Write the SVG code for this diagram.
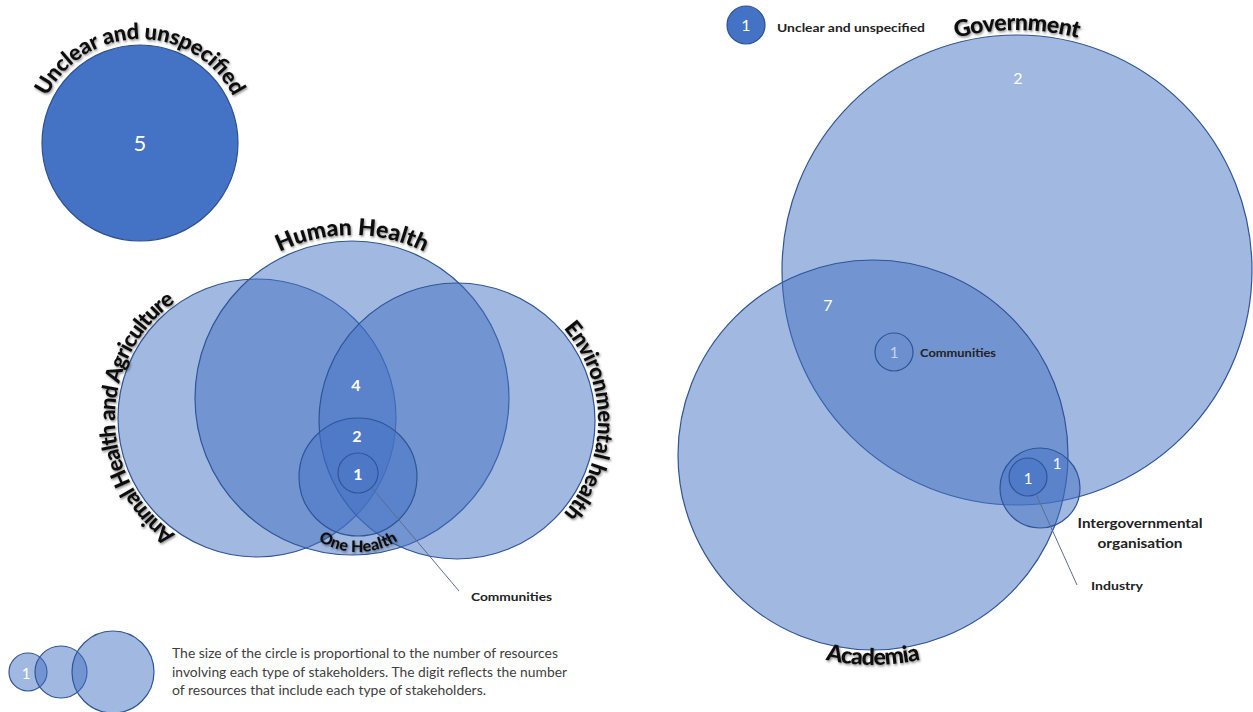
<svg xmlns="http://www.w3.org/2000/svg" width="1253" height="712" viewBox="0 0 1253 712">
<style>
  .c { fill: #4472C4; fill-opacity: 0.5; stroke: #2F5597; stroke-width: 1.2; }
  .cf { fill: #4472C4; stroke: #2F528F; stroke-width: 1.2; }
  .ci { fill: #4472C4; fill-opacity: 0.15; stroke: #2F5597; stroke-width: 1.2; }
  .arc { font-family: Lato, "Liberation Sans", sans-serif; font-weight: 900; fill: #111; }
  .lbl { font-family: Lato, "Liberation Sans", sans-serif; font-weight: 700; fill: #222; }
  .num { font-family: Lato, "Liberation Sans", sans-serif; fill: #fff; text-anchor: middle; }
  .leg { font-family: Lato, "Liberation Sans", sans-serif; fill: #404040; font-size: 13px; }
  .ln { stroke: #5B6C94; stroke-width: 1; fill: none; }
</style>
<defs>
  <filter id="sh" x="-10%" y="-30%" width="120%" height="160%">
    <feDropShadow dx="1" dy="1.5" stdDeviation="1.2" flood-color="#000" flood-opacity="0.45"/>
  </filter>
  <path id="pUnclear" d="M 36,143 A 104 104 0 0 1 244,143"/>
  <path id="pHuman" d="M 189,398 A 163 163 0 0 1 515,398"/>
  <path id="pAnimal" d="M 257,560 A 142 142 0 0 1 257,276"/>
  <path id="pEnv" d="M 457,280 A 141 141 0 0 1 457,562"/>
  <path id="pOne" d="M 283,477 A 75 75 0 0 0 433,477"/>
  <path id="pGov" d="M 777,270 A 240 240 0 0 1 1257,270"/>
  <path id="pAcad" d="M 663,455 A 210 210 0 0 0 1083,455"/>
</defs>
<rect width="1253" height="712" fill="#fff"/>

<g id="unclear-left">
  <circle class="cf" cx="140" cy="143" r="98"/>
  <text class="num" x="140" y="151" font-size="22">5</text>
  <text class="arc" font-size="22" filter="url(#sh)"><textPath href="#pUnclear" startOffset="50%" text-anchor="middle" textLength="230" lengthAdjust="spacing">Unclear and unspecified</textPath></text>
</g>

<g id="animal-health">
  <circle class="c" cx="257" cy="418" r="139"/>
  <text class="arc" font-size="22" filter="url(#sh)"><textPath href="#pAnimal" startOffset="50%" text-anchor="middle" textLength="272" lengthAdjust="spacing">Animal Health and Agriculture</textPath></text>
</g>
<g id="human-health">
  <circle class="c" cx="352" cy="398" r="157"/>
  <text class="arc" font-size="23" filter="url(#sh)"><textPath href="#pHuman" startOffset="50%" text-anchor="middle" textLength="150" lengthAdjust="spacing">Human Health</textPath></text>
</g>
<g id="environmental-health">
  <circle class="c" cx="457" cy="421" r="138"/>
  <text class="arc" font-size="22" filter="url(#sh)"><textPath href="#pEnv" startOffset="50%" text-anchor="middle" textLength="202" lengthAdjust="spacing">Environmental health</textPath></text>
</g>
<g id="one-health">
  <circle class="c" cx="358" cy="477" r="59"/>
  <text class="arc" font-size="16" filter="url(#sh)"><textPath href="#pOne" startOffset="50%" text-anchor="middle" textLength="84" lengthAdjust="spacing">One Health</textPath></text>
</g>
<g id="communities-venn">
  <circle class="ci" cx="358" cy="473" r="20"/>
  <text class="lbl" x="471" y="601" font-size="12" textLength="81" lengthAdjust="spacingAndGlyphs">Communities</text>
</g>
<g id="venn-numbers">
  <text class="num" x="356" y="391" font-size="16" font-weight="700">4</text>
  <text class="num" x="357" y="442" font-size="16" font-weight="700">2</text>
  <text class="num" x="358" y="480" font-size="16" font-weight="700">1</text>
</g>

<g id="government">
  <circle class="c" cx="1017" cy="270" r="235"/>
  <text class="num" x="1018" y="84" font-size="16">2</text>
  <text class="arc" font-size="23" filter="url(#sh)"><textPath href="#pGov" startOffset="50%" text-anchor="middle" textLength="124" lengthAdjust="spacing">Government</textPath></text>
</g>
<g id="academia">
  <circle class="c" cx="873" cy="455" r="195"/>
  <text class="num" x="828" y="311" font-size="16">7</text>
  <text class="arc" font-size="23" filter="url(#sh)"><textPath href="#pAcad" startOffset="50%" text-anchor="middle" textLength="96" lengthAdjust="spacing">Academia</textPath></text>
</g>
<g id="communities-right">
  <circle class="ci" cx="894" cy="352" r="19"/>
  <text class="num" x="894" y="358" font-size="15" style="fill:#C9D4EE">1</text>
  <text class="lbl" x="920" y="357" font-size="11" textLength="76" lengthAdjust="spacingAndGlyphs">Communities</text>
</g>
<g id="intergovernmental">
  <circle class="c" cx="1040" cy="488" r="40"/>
  <text class="num" x="1057" y="469" font-size="15">1</text>
  <text class="lbl" x="1140" y="528" font-size="13" text-anchor="middle" textLength="125" lengthAdjust="spacingAndGlyphs">Intergovernmental</text>
  <text class="lbl" x="1140" y="548" font-size="13" text-anchor="middle" textLength="85" lengthAdjust="spacingAndGlyphs">organisation</text>
</g>
<g id="industry">
  <circle class="c" cx="1028" cy="477" r="19"/>
  <text class="num" x="1028" y="484" font-size="15">1</text>
  <text class="lbl" x="1091" y="590" font-size="12" textLength="52" lengthAdjust="spacingAndGlyphs">Industry</text>
</g>

<g id="legend-top">
  <circle class="cf" cx="746" cy="25" r="19"/>
  <text class="num" x="746" y="31" font-size="16">1</text>
  <text class="lbl" x="777" y="32" font-size="12" textLength="148" lengthAdjust="spacingAndGlyphs">Unclear and unspecified</text>
</g>

<g id="legend-bottom">
  <circle class="c" cx="28" cy="672" r="19"/>
  <circle class="c" cx="61" cy="672" r="26"/>
  <circle class="c" cx="113" cy="672" r="41"/>
  <text class="num" x="26" y="679" font-size="15">1</text>
  <text class="leg" x="172" y="658" textLength="386" lengthAdjust="spacingAndGlyphs">The size of the circle is proportional to the number  of resources</text>
  <text class="leg" x="172" y="677" textLength="395" lengthAdjust="spacingAndGlyphs">involving each type of stakeholders. The digit reflects the number</text>
  <text class="leg" x="172" y="695" textLength="314" lengthAdjust="spacingAndGlyphs">of resources that include  each type of stakeholders.</text>
</g>

<g id="connectors">
  <line class="ln" x1="372" y1="488" x2="459" y2="591"/>
  <line class="ln" x1="1036" y1="494" x2="1077" y2="585"/>
</g>
</svg>
